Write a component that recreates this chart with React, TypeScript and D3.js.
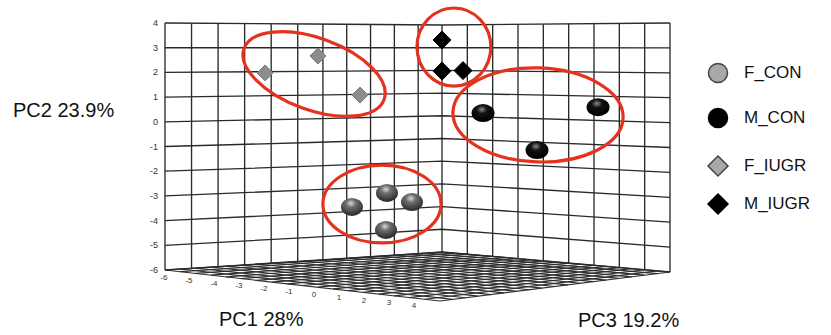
import React, { useEffect, useRef } from "react";
import * as d3 from "d3";

// PC2 ticks on the back wall, PC1 ticks along the floor edge
const pc2Ticks = [4, 3, 2, 1, 0, -1, -2, -3, -4, -5, -6];
const pc1Ticks = [-6, -5, -4, -3, -2, -1, 0, 1, 2, 3, 4];
const groupNames = ["F_CON", "M_CON", "F_IUGR", "M_IUGR"];

// point positions: wall = position across back walls (0..11 left wall, 11..20 right wall), pc2 = height
const fConWall = [7.22, 8.69, 9.74, 8.65];
const fConPC2 = [-3.81, -3.28, -3.73, -4.88];
const mConWall = [12.62, 14.75, 17.16];
const mConPC2 = [0.17, -1.33, 0.55];
const fIugrWall = [3.77, 5.79, 7.56];
const fIugrPC2 = [1.95, 2.65, 0.97];
const mIugrWall = [11, 11, 11.83];
const mIugrPC2 = [3.34, 1.97, 2.0];

// red rings drawn round the clusters (same units)
const ringWall = [5.63, 11.47, 14.79, 8.48];
const ringPC2 = [1.89, 3.03, 0.16, -3.75];
const ringRw = [3.0, 1.46, 3.36, 2.48];
const ringRh = [1.52, 1.71, 1.99, 1.68];
const ringTilt = [20, 0, 2, 0];

export default function App() {
  const ref = useRef<HTMLDivElement | null>(null);

  useEffect(() => {
    if (!ref.current) return;
    d3.select(ref.current).selectAll("svg").remove();

    const svg = d3
      .select(ref.current)
      .append("svg")
      .attr("width", 831)
      .attr("height", 335)
      .style("position", "absolute")
      .style("left", "0px")
      .style("top", "0px")
      .style("font-family", "'Liberation Sans', Arial, sans-serif");

    const xWall = d3.scaleLinear([0, 5.5, 11, 20], [165, 311, 442, 670]);
    const topWall = d3.scaleLinear([0, 11, 20], [23, 25, 23]);
    const botWall = d3.scaleLinear([0, 11, 20], [270, 252, 272]);
    const pc2Frac = d3.scaleLinear([4, -6], [0, 1]);
    const project = (t: number, v: number): [number, number] => [
      xWall(t),
      topWall(t) + pc2Frac(v) * (botWall(t) - topWall(t)),
    ];

    const defs = svg.append("defs");
    const grad = (id: string, hi: string, mid: string, lo: string) => {
      const g = defs
        .append("radialGradient")
        .attr("id", id)
        .attr("cx", "45%")
        .attr("cy", "30%")
        .attr("r", "65%");
      g.append("stop").attr("offset", "0%").attr("stop-color", hi);
      g.append("stop").attr("offset", "35%").attr("stop-color", mid);
      g.append("stop").attr("offset", "100%").attr("stop-color", lo);
    };
    grad("gGray", "#d8d8d8", "#6e6e6e", "#2e2e2e");
    grad("gBlack", "#8a8a8a", "#111", "#000");

    // floor
    const L: [number, number] = [165, 270];
    const B: [number, number] = [442, 252];
    const R: [number, number] = [670, 272];
    const F: [number, number] = [440, 301];
    const mix = (p: [number, number], q: [number, number], k: number): [number, number] => [
      p[0] + (q[0] - p[0]) * k,
      p[1] + (q[1] - p[1]) * k,
    ];
    const floor = svg.append("g").attr("stroke", "#2e2e2e").attr("stroke-width", 1.2).attr("fill", "none");
    const nA = 18;
    const nB = 18;
    d3.range(nA + 1).forEach((i) => {
      const p = mix(L, B, i / nA);
      const q = mix(F, R, i / nA);
      floor.append("line").attr("x1", p[0]).attr("y1", p[1]).attr("x2", q[0]).attr("y2", q[1]);
    });
    d3.range(nB + 1).forEach((j) => {
      const p = mix(L, F, j / nB);
      const q = mix(B, R, j / nB);
      floor.append("line").attr("x1", p[0]).attr("y1", p[1]).attr("x2", q[0]).attr("y2", q[1]);
    });

    // floor tick labels (PC1)
    svg
      .append("g")
      .selectAll("text")
      .data(pc1Ticks)
      .enter()
      .append("text")
      .attr("x", (d, i) => mix(L, F, i / 11)[0] - 1)
      .attr("y", (d, i) => mix(L, F, i / 11)[1] + 10)
      .attr("font-size", 8)
      .attr("fill", "#333")
      .attr("text-anchor", "middle")
      .text((d) => d);

    // back walls
    const walls = svg.append("g").attr("stroke", "#2a2a2a").attr("stroke-width", 1.35).attr("fill", "none");
    d3.range(0, 21).forEach((t) => {
      const a = project(t, 4);
      const b = project(t, -6);
      walls.append("line").attr("x1", a[0]).attr("y1", a[1]).attr("x2", b[0]).attr("y2", b[1]);
    });
    const line = d3.line<[number, number]>();
    pc2Ticks.forEach((v) => {
      walls.append("path").attr("d", line([0, 5.5, 11, 20].map((t) => project(t, v))));
    });

    // PC2 tick labels
    svg
      .append("g")
      .selectAll("text")
      .data(pc2Ticks)
      .enter()
      .append("text")
      .attr("x", 158)
      .attr("y", (d) => project(0, d)[1] + 3)
      .attr("font-size", 9)
      .attr("fill", "#333")
      .attr("text-anchor", "end")
      .text((d) => d);

    // red rings
    ringWall.forEach((t, i) => {
      const [cx, cy] = project(t, ringPC2[i]);
      const unitX = xWall(t + 0.5) - xWall(t - 0.5);
      const unitY = (botWall(t) - topWall(t)) / 10;
      svg
        .append("ellipse")
        .attr("cx", cx)
        .attr("cy", cy)
        .attr("rx", ringRw[i] * unitX)
        .attr("ry", ringRh[i] * unitY)
        .attr("transform", `rotate(${ringTilt[i]},${cx},${cy})`)
        .attr("fill", "none")
        .attr("stroke", "#e5321f")
        .attr("stroke-width", 3.2);
    });

    const sphere = (ws: number[], vs: number[], rx: number, ry: number, fill: string) => {
      svg
        .append("g")
        .selectAll("ellipse")
        .data(ws)
        .enter()
        .append("ellipse")
        .attr("cx", (d, i) => project(d, vs[i])[0])
        .attr("cy", (d, i) => project(d, vs[i])[1])
        .attr("rx", rx)
        .attr("ry", ry)
        .attr("fill", fill);
    };
    const diamond = (ws: number[], vs: number[], r: number, fill: string, stroke: string) => {
      svg
        .append("g")
        .selectAll("path")
        .data(ws)
        .enter()
        .append("path")
        .attr("transform", (d, i) => `translate(${project(d, vs[i])})`)
        .attr("d", `M0,${-r}L${r},0L0,${r}L${-r},0Z`)
        .attr("fill", fill)
        .attr("stroke", stroke)
        .attr("stroke-width", 1);
    };
    sphere(fConWall, fConPC2, 11, 9, "url(#gGray)");
    sphere(mConWall, mConPC2, 11.5, 9, "url(#gBlack)");
    diamond(fIugrWall, fIugrPC2, 8, "#8c8c8c", "#7a7a7a");
    diamond(mIugrWall, mIugrPC2, 9, "#000", "#000");

    // axis titles
    const title = (x: number, y: number, s: string) =>
      svg.append("text").attr("x", x).attr("y", y).attr("font-size", 20).attr("fill", "#111").text(s);
    title(13, 117, "PC2 23.9%");
    title(219, 326, "PC1 28%");
    title(578, 327, "PC3 19.2%");

    // legend
    const lg = svg.append("g");
    const ly = [73, 118, 166, 204];
    groupNames.forEach((name, i) => {
      const y = ly[i];
      if (i < 2) {
        lg.append("circle")
          .attr("cx", 718)
          .attr("cy", y)
          .attr("r", 9.5)
          .attr("fill", i === 0 ? "#a9a9a9" : "#000")
          .attr("stroke", i === 0 ? "#444" : "#000")
          .attr("stroke-width", 1.5);
      } else {
        const r = 10;
        lg.append("path")
          .attr("transform", `translate(718,${y})`)
          .attr("d", `M0,${-r}L${r},0L0,${r}L${-r},0Z`)
          .attr("fill", i === 2 ? "#a9a9a9" : "#000")
          .attr("stroke", i === 2 ? "#444" : "#000")
          .attr("stroke-width", 1.5);
      }
      lg.append("text")
        .attr("x", 744)
        .attr("y", y + 5)
        .attr("font-size", 17)
        .attr("fill", "#111")
        .text(name);
    });
  });

  return <div ref={ref}></div>;
}
